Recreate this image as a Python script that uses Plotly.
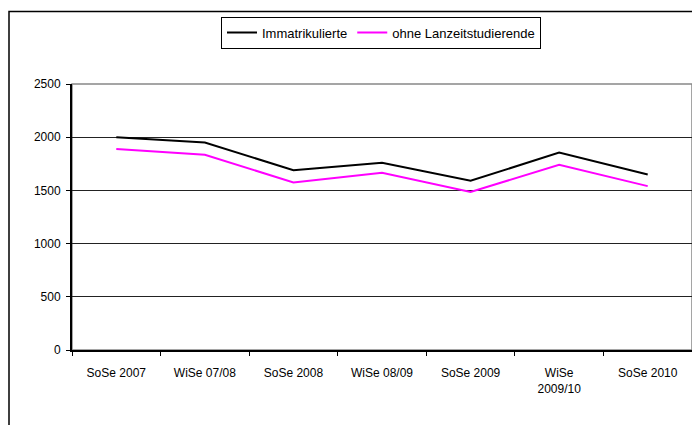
import plotly.graph_objects as go

categories = ["SoSe 2007", "WiSe 07/08", "SoSe 2008", "WiSe 08/09", "SoSe 2009", "WiSe<br>2009/10", "SoSe 2010"]
immatrikulierte = [2000, 1950, 1690, 1760, 1590, 1855, 1650]
ohne_langzeit = [1890, 1835, 1575, 1665, 1485, 1740, 1540]
series_names = ["Immatrikulierte", "ohne Lanzeitstudierende"]
y_ticks = [0, 500, 1000, 1500, 2000, 2500]

FAM = "Liberation Sans, Arial, sans-serif"
font = dict(family=FAM, size=12, color="black")

fig = go.Figure()
fig.add_trace(go.Scatter(x=categories, y=immatrikulierte, mode="lines", name=series_names[0],
                         line=dict(color="black", width=2)))
fig.add_trace(go.Scatter(x=categories, y=ohne_langzeit, mode="lines", name=series_names[1],
                         line=dict(color="#FF00FF", width=2)))

# page has an 8px body margin; figure coords = page coords - 8
W, H = 692, 417
L, R, T, B = 64, 8, 74, 75
pw, ph = W - L - R, H - T - B

fig.update_layout(
    width=W, height=H,
    margin=dict(l=L, r=R, t=T, b=B, pad=0),
    paper_bgcolor="white", plot_bgcolor="white",
    font=font,
    showlegend=True,
    legend=dict(orientation="h", x=(381 - 8 - L) / pw, xanchor="center", y=1 + (T - 6) / ph, yanchor="top",
                bordercolor="black", borderwidth=1, bgcolor="white",
                font=dict(family=FAM, size=13, color="black"),
                tracegroupgap=0),
    xaxis=dict(type="category", range=[-0.5, 6.5], showgrid=False, showline=True,
               linecolor="black", linewidth=2, ticks="outside", ticklen=4, tickcolor="black",
               tickson="boundaries", ticklabelstandoff=11, zeroline=False),
    yaxis=dict(range=[0, 2500], tickvals=y_ticks, showgrid=True, gridcolor="#222222", gridwidth=1,
               showline=True, linecolor="black", linewidth=2, ticks="outside", ticklen=4,
               tickcolor="black", zeroline=False, ticklabelstandoff=3),
    shapes=[
        dict(type="rect", xref="x domain", yref="y domain", x0=0, x1=1, y0=0, y1=1,
             line=dict(color="#888888", width=1.5), layer="below"),
        dict(type="rect", xref="paper", yref="paper",
             x0=(1 - L) / pw, x1=(W + 20 - L) / pw,
             y0=-(B + 20) / ph, y1=1 + (T - 1) / ph,
             line=dict(color="black", width=1.5), layer="below"),
    ],
)

fig.write_html("out.html")
